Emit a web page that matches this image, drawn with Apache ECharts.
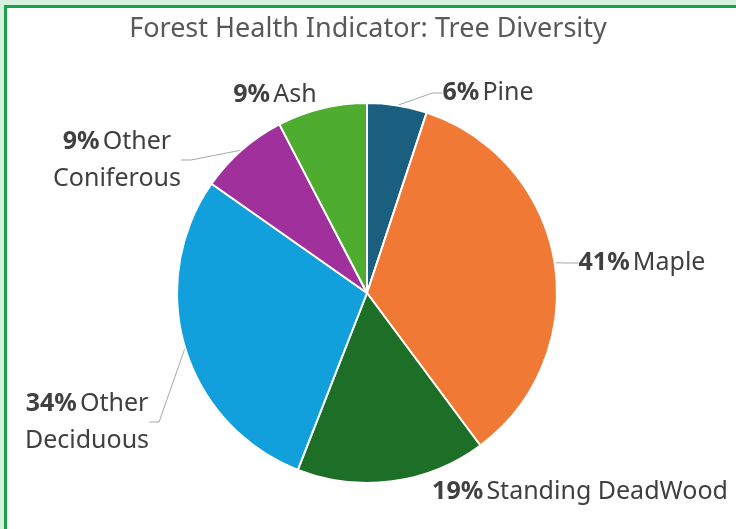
<!DOCTYPE html>
<html>
<head>
<meta charset="utf-8">
<script src="https://cdn.jsdelivr.net/npm/echarts@6/dist/echarts.min.js"></script>
<style>
  html, body { margin: 0; padding: 0; width: 736px; height: 529px; overflow: hidden; background: #d6efdf; }
  .frame { position: absolute; left: 4px; top: 5px; width: 760px; height: 560px; background: #fff;
           border-left: 3px solid #1aa346; border-top: 3px solid #1aa346; }
  #chart { position: absolute; left: 0; top: 0; width: 736px; height: 529px; }
</style>
</head>
<body>
<div class="frame"></div>
<div id="chart"></div>
<script>
// 数据
var categories = ['Pine', 'Maple', 'Standing DeadWood', 'Other Deciduous', 'Other Coniferous', 'Ash']
var values = [6, 41, 19, 34, 9, 9]
var labelTexts = ['Pine', 'Maple', 'Standing DeadWood', 'Other\nDeciduous', 'Other\nConiferous', 'Ash']
var colors = ['#1a5e80', '#f07a35', '#1d6e27', '#12a0dc', '#a0309c', '#4eac2e']
var showLines = [true, true, false, true, true, false]

// 标签位置 (center x, middle y)
var labelPos = [
  [488, 93],
  [642, 263],
  [580, 492],
  [87, 422],
  [117, 160],
  [275, 95]
]

var chart = echarts.init(document.getElementById('chart'))

var seriesData = categories.map(function(name, i) {
  var parts = labelTexts[i].split('\n')
  var txt = '{b|' + values[i] + '%} {n|' + parts[0] + '}'
  if (parts.length > 1) txt += '\n{n|' + parts[1] + '}'
  return {
    name: name,
    value: values[i],
    itemStyle: { color: colors[i] },
    label: { formatter: txt },
    labelLine: { show: showLines[i] }
  }
})

var option = {
  animation: false,
  backgroundColor: 'transparent',
  title: {
    text: 'Forest Health Indicator: Tree Diversity',
    left: 'center',
    top: 11,
    textStyle: {
      fontFamily: 'Noto Sans',
      fontWeight: 'normal',
      fontSize: 27,
      color: '#595959'
    }
  },
  series: [{
    type: 'pie',
    center: [367, 293],
    radius: [0, 190],
    startAngle: 90,
    clockwise: true,
    itemStyle: { borderColor: '#fff', borderWidth: 2 },
    label: {
      show: true,
      position: 'outside',
      align: 'center',
      fontFamily: 'Noto Sans',
      lineHeight: 37,
      rich: {
        b: { fontFamily: 'Noto Sans', fontSize: 25, fontWeight: 'bold', color: '#404040', lineHeight: 37 },
        n: { fontFamily: 'Noto Sans', fontSize: 25, color: '#404040', lineHeight: 37 }
      }
    },
    labelLine: {
      length: 10,
      length2: 10,
      lineStyle: { color: '#a6a6a6', width: 1 }
    },
    labelLayout: function(params) {
      var p = labelPos[params.dataIndex]
      return { x: p[0], y: p[1], align: 'center', verticalAlign: 'middle' }
    },
    data: seriesData
  }]
}
chart.setOption(option)
</script>
</body>
</html>
